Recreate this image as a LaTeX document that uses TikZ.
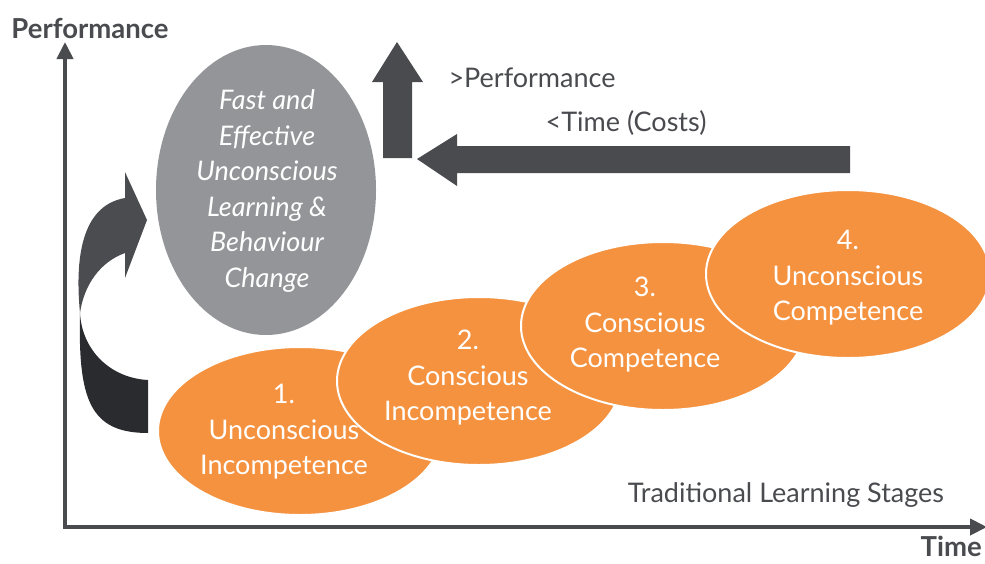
\documentclass[tikz,border=0pt]{standalone}
\usepackage{fontspec}
\setmainfont{Lato}
\usetikzlibrary{arrows.meta,shapes.geometric}
\definecolor{axisgray}{HTML}{4A4B4F}
\definecolor{ovalgray}{HTML}{939598}
\definecolor{orangefill}{HTML}{F5923F}
\definecolor{darkpiece}{HTML}{2A2B2F}
\definecolor{lightpiece}{HTML}{4B4C50}
\begin{document}
\begin{tikzpicture}[x=1pt,y=-1pt,
  axisline/.style={draw=axisgray,line width=4,-{Triangle[length=17,width=16]}},
  stageoval/.style={ellipse,fill=orangefill,draw=white,line width=2,inner sep=0pt,minimum width=284,minimum height=168},
  stagetext/.style={text=white,align=center,font=\fontsize{27}{35.5}\selectfont},
  graytext/.style={text=axisgray,font=\fontsize{27}{35.5}\selectfont},
  boldlabel/.style={text=axisgray,font=\fontsize{27.5}{30}\selectfont\bfseries}]
\useasboundingbox (0,0) rectangle (985,563);
% axes
\coordinate (O) at (65,527);
\coordinate (ytop) at (65,42);
\coordinate (xstart) at (63,527);
\coordinate (xend) at (987,527);
\draw[axisline] (O) -- (ytop);
\draw[axisline] (xstart) -- (xend);
\node[boldlabel] (perf) at (90,28) {Performance};
\node[boldlabel,anchor=base east,inner sep=1pt] (time) at (983,556) {Time};
% curved arrow
\fill[darkpiece] (148,380) .. controls (110,378) and (82,350) .. (80,313)
  .. controls (78,400) and (90,433) .. (148,433) -- cycle;
\fill[lightpiece] (80,313) .. controls (74,250) and (85,205) .. (125,198)
  -- (125,172) -- (147,220) -- (125,278) -- (125,253)
  .. controls (100,262) and (84,285) .. (80,313) -- cycle;
% gray oval
\node[ellipse,fill=ovalgray,inner sep=0pt,minimum width=220,minimum height=290] (fast) at (266,190) {};
\node[stagetext,font=\fontsize{27}{35.5}\selectfont\itshape] (fasttext) at (267,191)
  {Fast and\\Effective\\Unconscious\\Learning \&\\Behaviour\\Change};
% stages
\node[stageoval] (s1) at (300,431) {};
\node[stageoval] (s2) at (479,381) {};
\node[stageoval] (s3) at (663,326) {};
\node[stageoval] (s4) at (848,274) {};
\node[stagetext] (t1) at (284,432) {1.\\Unconscious\\Incompetence};
\node[stagetext] (t2) at (468,378) {2.\\Conscious\\Incompetence};
\node[stagetext] (t3) at (645,325) {3.\\Conscious\\Competence};
\node[stagetext] (t4) at (848,278) {4.\\Unconscious\\Competence};
\node[graytext] (trad) at (786,495) {Traditional Learning Stages};
% top arrows
\fill[axisgray] (383,158) -- (383,82) -- (372,82) -- (397,42) -- (423,82) -- (412,82) -- (412,158) -- cycle;
\fill[axisgray] (850,146) -- (457,146) -- (457,134) -- (417,159) -- (457,186) -- (457,173) -- (850,173) -- cycle;
\node[graytext,anchor=west] (moreperf) at (445,78) {>Performance};
\node[graytext] (lesstime) at (626,123) {<Time (Costs)};
\end{tikzpicture}
\end{document}
